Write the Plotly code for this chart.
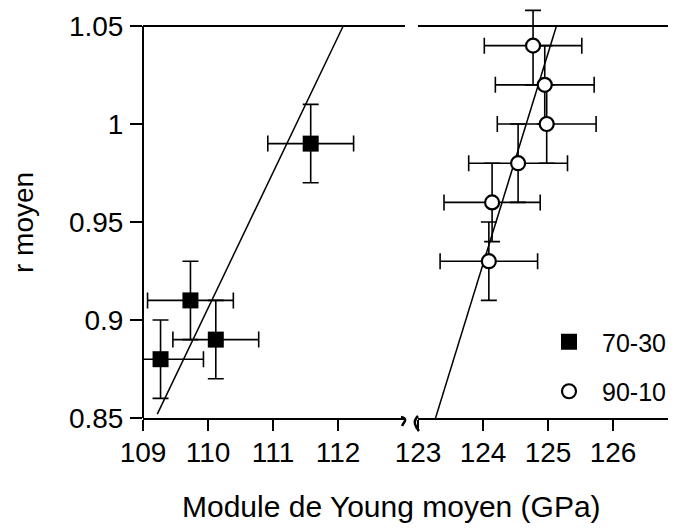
import plotly.graph_objects as go

# ---- data ----
x_7030 = [109.27, 109.73, 110.12, 111.58]
y_7030 = [0.88, 0.91, 0.89, 0.99]
xerr_7030 = [0.66, 0.66, 0.66, 0.66]
yerr_7030 = [0.02, 0.02, 0.02, 0.02]

x_9010 = [124.77, 124.95, 124.98, 124.54, 124.14, 124.09]
y_9010 = [1.04, 1.02, 1.00, 0.98, 0.96, 0.93]
xerr_9010 = [0.75, 0.76, 0.76, 0.76, 0.74, 0.75]
yerr_9010_plus = [0.018, 0.02, 0.02, 0.02, 0.02, 0.02]
yerr_9010_minus = [0.02, 0.02, 0.02, 0.02, 0.02, 0.02]

fit_7030_x = [109.22, 112.08]
fit_7030_y = [0.852, 1.05]
fit_9010_x = [123.27, 125.13]
fit_9010_y = [0.85, 1.05]

y_ticks = [0.85, 0.9, 0.95, 1.0, 1.05]
y_ticktext = ["0.85", "0.9", "0.95", "1", "1.05"]
x_ticks_left = [109, 110, 111, 112]
x_ticks_right = [123, 124, 125, 126]

Y_MIN, Y_FRAME_TOP, Y_MAX = 0.85, 1.05, 1.0592

FONT = "Liberation Sans, Arial, Helvetica, sans-serif"
BLACK = "black"

fig = go.Figure()

fig.add_trace(go.Scatter(x=fit_7030_x, y=fit_7030_y, mode="lines",
                         line=dict(color=BLACK, width=1.5),
                         xaxis="x", yaxis="y", showlegend=False, hoverinfo="skip"))
fig.add_trace(go.Scatter(x=fit_9010_x, y=fit_9010_y, mode="lines",
                         line=dict(color=BLACK, width=1.5),
                         xaxis="x2", yaxis="y", showlegend=False, hoverinfo="skip"))

err_style = dict(color=BLACK, thickness=1.6, width=8)

fig.add_trace(go.Scatter(
    x=x_7030, y=y_7030, mode="markers", name="70-30",
    marker=dict(symbol="square", size=16, color=BLACK, line=dict(width=0)),
    error_x=dict(type="data", array=xerr_7030, visible=True, **err_style),
    error_y=dict(type="data", array=yerr_7030, visible=True, **err_style),
    xaxis="x", yaxis="y", cliponaxis=False, legendgroup="a"))

fig.add_trace(go.Scatter(
    x=x_9010, y=y_9010, mode="markers", name="90-10",
    marker=dict(symbol="circle", size=14, color="white", line=dict(width=2.2, color=BLACK)),
    error_x=dict(type="data", array=xerr_9010, visible=True, **err_style),
    error_y=dict(type="data", symmetric=False, array=yerr_9010_plus,
                 arrayminus=yerr_9010_minus, visible=True, **err_style),
    xaxis="x2", yaxis="y", cliponaxis=False, legendgroup="b"))

# page has an 8px body margin; figure is sized so the page is 676x530
W, H = 668, 522
L, R, T, B = 135, 0, 0, 112
pw = W - L - R
ph = H - T - B
left_end_px = 262
right_start_px = 275
px_per_gpa = 65
frame_top = (Y_FRAME_TOP - Y_MIN) / (Y_MAX - Y_MIN)

axis_common = dict(showline=True, linecolor=BLACK, linewidth=2, mirror=False,
                   ticks="outside", ticklen=11, tickwidth=1.5, tickcolor=BLACK,
                   showgrid=False, zeroline=False, ticklabelstandoff=-3,
                   tickfont=dict(family=FONT, size=28, color=BLACK))

frame = dict(color=BLACK, width=2)
shapes = [
    dict(type="line", xref="x domain", yref="paper", x0=0, x1=0, y0=0, y1=frame_top, line=frame),
    dict(type="line", xref="x domain", yref="paper", x0=0, x1=1, y0=frame_top, y1=frame_top, line=frame),
    dict(type="line", xref="x2 domain", yref="paper", x0=0, x1=1, y0=frame_top, y1=frame_top, line=frame),
    dict(type="path", xref="paper", yref="paper", xsizemode="pixel", ysizemode="pixel",
         xanchor=left_end_px / pw, yanchor=0,
         path="M -4,1 Q 1,0 0,-3 Q -2,-6 -3,-8", line=dict(color=BLACK, width=2.5)),
    dict(type="path", xref="paper", yref="paper", xsizemode="pixel", ysizemode="pixel",
         xanchor=right_start_px / pw, yanchor=0,
         path="M 0,2 Q -4,-2 -3,-6 Q -2,-10 1,-13", line=dict(color=BLACK, width=2.5)),
]

fig.update_layout(
    width=W, height=H,
    margin=dict(l=L, r=R, t=T, b=B),
    paper_bgcolor="white", plot_bgcolor="white",
    showlegend=True,
    xaxis=dict(domain=[0, left_end_px / pw], range=[109, 109 + left_end_px / px_per_gpa],
               tickvals=x_ticks_left, anchor="y", **axis_common),
    xaxis2=dict(domain=[right_start_px / pw, 1],
                range=[123, 123 + (pw - right_start_px) / px_per_gpa],
                tickvals=x_ticks_right, anchor="y", **axis_common),
    yaxis=dict(range=[Y_MIN, Y_MAX], tickvals=y_ticks, ticktext=y_ticktext,
               anchor="x", showline=False,
               ticks="outside", ticklen=12, tickwidth=1.5, tickcolor=BLACK,
               showgrid=False, zeroline=False, ticklabelstandoff=1,
               tickfont=dict(family=FONT, size=28, color=BLACK)),
    legend=dict(x=(528 - L) / pw, y=(410 - 311) / ph, xanchor="left", yanchor="top",
                font=dict(family=FONT, size=25, color=BLACK),
                itemwidth=56, traceorder="grouped", tracegroupgap=14,
                bgcolor="rgba(0,0,0,0)", borderwidth=0),
    annotations=[
        dict(text="Module de Young moyen (GPa)", xref="paper", yref="paper",
             x=(383.5 - L) / pw, y=(410 - 498) / ph, xanchor="center", yanchor="middle",
             showarrow=False, font=dict(family=FONT, size=30, color=BLACK)),
        dict(text="r moyen", xref="paper", yref="paper", textangle=-90,
             x=(15 - L) / pw, y=(410 - 215) / ph, xanchor="center", yanchor="middle",
             showarrow=False, font=dict(family=FONT, size=28, color=BLACK)),
    ],
    shapes=shapes,
)

fig.write_html("out.html")
